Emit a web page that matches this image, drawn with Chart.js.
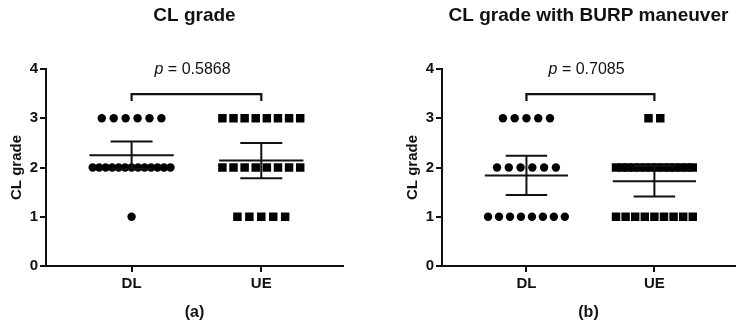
<!DOCTYPE html>
<html>
<head>
<meta charset="utf-8">
<script src="https://cdn.jsdelivr.net/npm/chart.js@4.4.1/dist/chart.umd.min.js"></script>
<style>
  html, body { margin: 0; padding: 0; background: #fff; }
  #wrap { position: relative; width: 743px; height: 326px; overflow: hidden; }
  .panel { position: absolute; top: 0; width: 372px; height: 326px; }
</style>
</head>
<body>
<div id="wrap">
  <div class="panel" style="left:0"><canvas id="chartA" width="372" height="326"></canvas></div>
  <div class="panel" style="left:371px"><canvas id="chartB" width="372" height="326"></canvas></div>
</div>
<script>
// groups on the x axis, grade rows on the y axis
var categories = ['DL', 'UE'];
var grades = [3, 2, 1];

// (a) CL grade: how many patients at each grade (3, 2, 1)
var countsA_DL = [6, 13, 1];
var countsA_UE = [8, 8, 5];
var meansA = [2.25, 2.14];
var lowA = [1.97, 1.78];
var highA = [2.53, 2.50];

// (b) CL grade with BURP maneuver
var countsB_DL = [5, 6, 8];
var countsB_UE = [2, 14, 9];
var meansB = [1.84, 1.72];
var lowB = [1.44, 1.41];
var highB = [2.24, 2.03];

var titles = ['CL grade', 'CL grade with BURP maneuver'];
var panelLabels = ['(a)', '(b)'];
var pValues = ['0.5868', '0.7085'];
var yTicks = [0, 1, 2, 3, 4];

var FONT = "'Liberation Sans', Arial, sans-serif";

// spread the points of one grade row sideways like a column scatter
function rowPoints(catIndex, counts) {
    var pts = [];
    for (var g = 0; g < grades.length; g++) {
        var n = counts[g];
        var step = n > 1 ? Math.min(0.092, 0.6 / (n - 1)) : 0;
        for (var i = 0; i < n; i++) {
            pts.push({ x: catIndex + (i - (n - 1) / 2) * step, y: grades[g] });
        }
    }
    return pts;
}

// mean line + error bar, segments split by null points
function errorBars(means, low, high) {
    var pts = [];
    for (var c = 0; c < means.length; c++) {
        var cx = c + 1;
        pts.push({ x: cx - 0.325, y: means[c] }, { x: cx + 0.325, y: means[c] }, { x: cx, y: null });
        pts.push({ x: cx - 0.162, y: high[c] }, { x: cx + 0.162, y: high[c] }, { x: cx, y: null });
        pts.push({ x: cx - 0.162, y: low[c] }, { x: cx + 0.162, y: low[c] }, { x: cx, y: null });
        pts.push({ x: cx, y: low[c] }, { x: cx, y: high[c] }, { x: cx, y: null });
    }
    return pts;
}

var pLabelPlugin = {
    id: 'pLabel',
    afterDatasetsDraw: function (chart, args, opts) {
        var ctx = chart.ctx;
        var x = chart.scales.x.getPixelForValue(1.47);
        var y = chart.scales.y.getPixelForValue(4) + 0.5;
        var rest = ' = ' + opts.value;
        ctx.save();
        ctx.fillStyle = '#111';
        ctx.textBaseline = 'middle';
        ctx.textAlign = 'left';
        ctx.font = 'italic 16px ' + FONT;
        var w1 = ctx.measureText('p').width;
        ctx.font = '16px ' + FONT;
        var w2 = ctx.measureText(rest).width;
        var start = x - (w1 + w2) / 2;
        ctx.font = 'italic 16px ' + FONT;
        ctx.fillText('p', start, y);
        ctx.font = '16px ' + FONT;
        ctx.fillText(rest, start + w1, y);
        ctx.restore();
    }
};

function makeChart(id, idx, countsDL, countsUE, means, low, high, padLeft, padRight) {
    var ctx = document.getElementById(id);
    return new Chart(ctx, {
        type: 'scatter',
        data: {
            datasets: [{
                data: errorBars(means, low, high),
                showLine: true,
                spanGaps: false,
                borderColor: '#111',
                borderWidth: 2,
                pointRadius: 0,
                order: 0
            }, {
                // bracket over the two groups
                data: [{ x: 1, y: 3.35 }, { x: 1, y: 3.49 }, { x: 2, y: 3.49 }, { x: 2, y: 3.35 }],
                showLine: true,
                borderColor: '#111',
                borderWidth: 2.2,
                pointRadius: 0,
                order: 0
            }, {
                data: rowPoints(1, countsDL),
                pointStyle: 'circle',
                pointRadius: 4.2,
                pointBorderWidth: 0,
                pointBorderColor: '#000',
                pointBackgroundColor: '#000',
                order: 1
            }, {
                data: rowPoints(2, countsUE),
                pointStyle: 'rect',
                pointRadius: 6,
                pointBorderWidth: 0,
                pointBorderColor: '#000',
                pointBackgroundColor: '#000',
                order: 1
            }]
        },
        options: {
            responsive: false,
            animation: false,
            events: [],
            layout: { padding: { left: padLeft, right: padRight, top: 0, bottom: 0 } },
            plugins: {
                legend: { display: false },
                tooltip: { enabled: false },
                title: {
                    display: true,
                    text: titles[idx],
                    fullSize: false,
                    color: '#111',
                    font: { family: FONT, size: 19, weight: 'bold' },
                    padding: { top: 4, bottom: 42.2 }
                },
                pLabel: { value: pValues[idx] }
            },
            scales: {
                x: {
                    type: 'linear',
                    min: 0.34,
                    max: 2.63,
                    afterBuildTicks: function (scale) {
                        scale.ticks = categories.map(function (c, i) { return { value: i + 1 }; });
                    },
                    afterFit: function (scale) { scale.height = 60; },
                    ticks: {
                        autoSkip: false,
                        padding: 3,
                        color: '#111',
                        font: { family: FONT, size: 15, weight: 'bold' },
                        callback: function (v) { return categories[v - 1]; }
                    },
                    grid: { drawOnChartArea: false, drawTicks: true, tickLength: 6, color: '#111', lineWidth: 2 },
                    border: { display: true, color: '#111', width: 2 },
                    title: {
                        display: true,
                        text: panelLabels[idx],
                        color: '#111',
                        font: { family: FONT, size: 16, weight: 'bold' },
                        padding: { top: 0, bottom: 4 }
                    }
                },
                y: {
                    min: 0,
                    max: 4,
                    afterBuildTicks: function (scale) {
                        scale.ticks = yTicks.map(function (v) { return { value: v }; });
                    },
                    afterFit: function (scale) { scale.width = 46; },
                    ticks: {
                        padding: 2,
                        color: '#111',
                        font: { family: FONT, size: 15, weight: 'bold' }
                    },
                    grid: { drawOnChartArea: false, drawTicks: true, tickLength: 6, color: '#111', lineWidth: 2 },
                    border: { display: true, color: '#111', width: 2 },
                    title: {
                        display: true,
                        text: 'CL grade',
                        color: '#111',
                        font: { family: FONT, size: 15, weight: 'bold' },
                        padding: { top: 8, bottom: 0 }
                    }
                }
            }
        },
        plugins: [pLabelPlugin]
    });
}

makeChart('chartA', 0, countsA_DL, countsA_UE, meansA, lowA, highA, 0, 29);
makeChart('chartB', 1, countsB_DL, countsB_UE, meansB, lowB, highB, 25, 8);
</script>
</body>
</html>
